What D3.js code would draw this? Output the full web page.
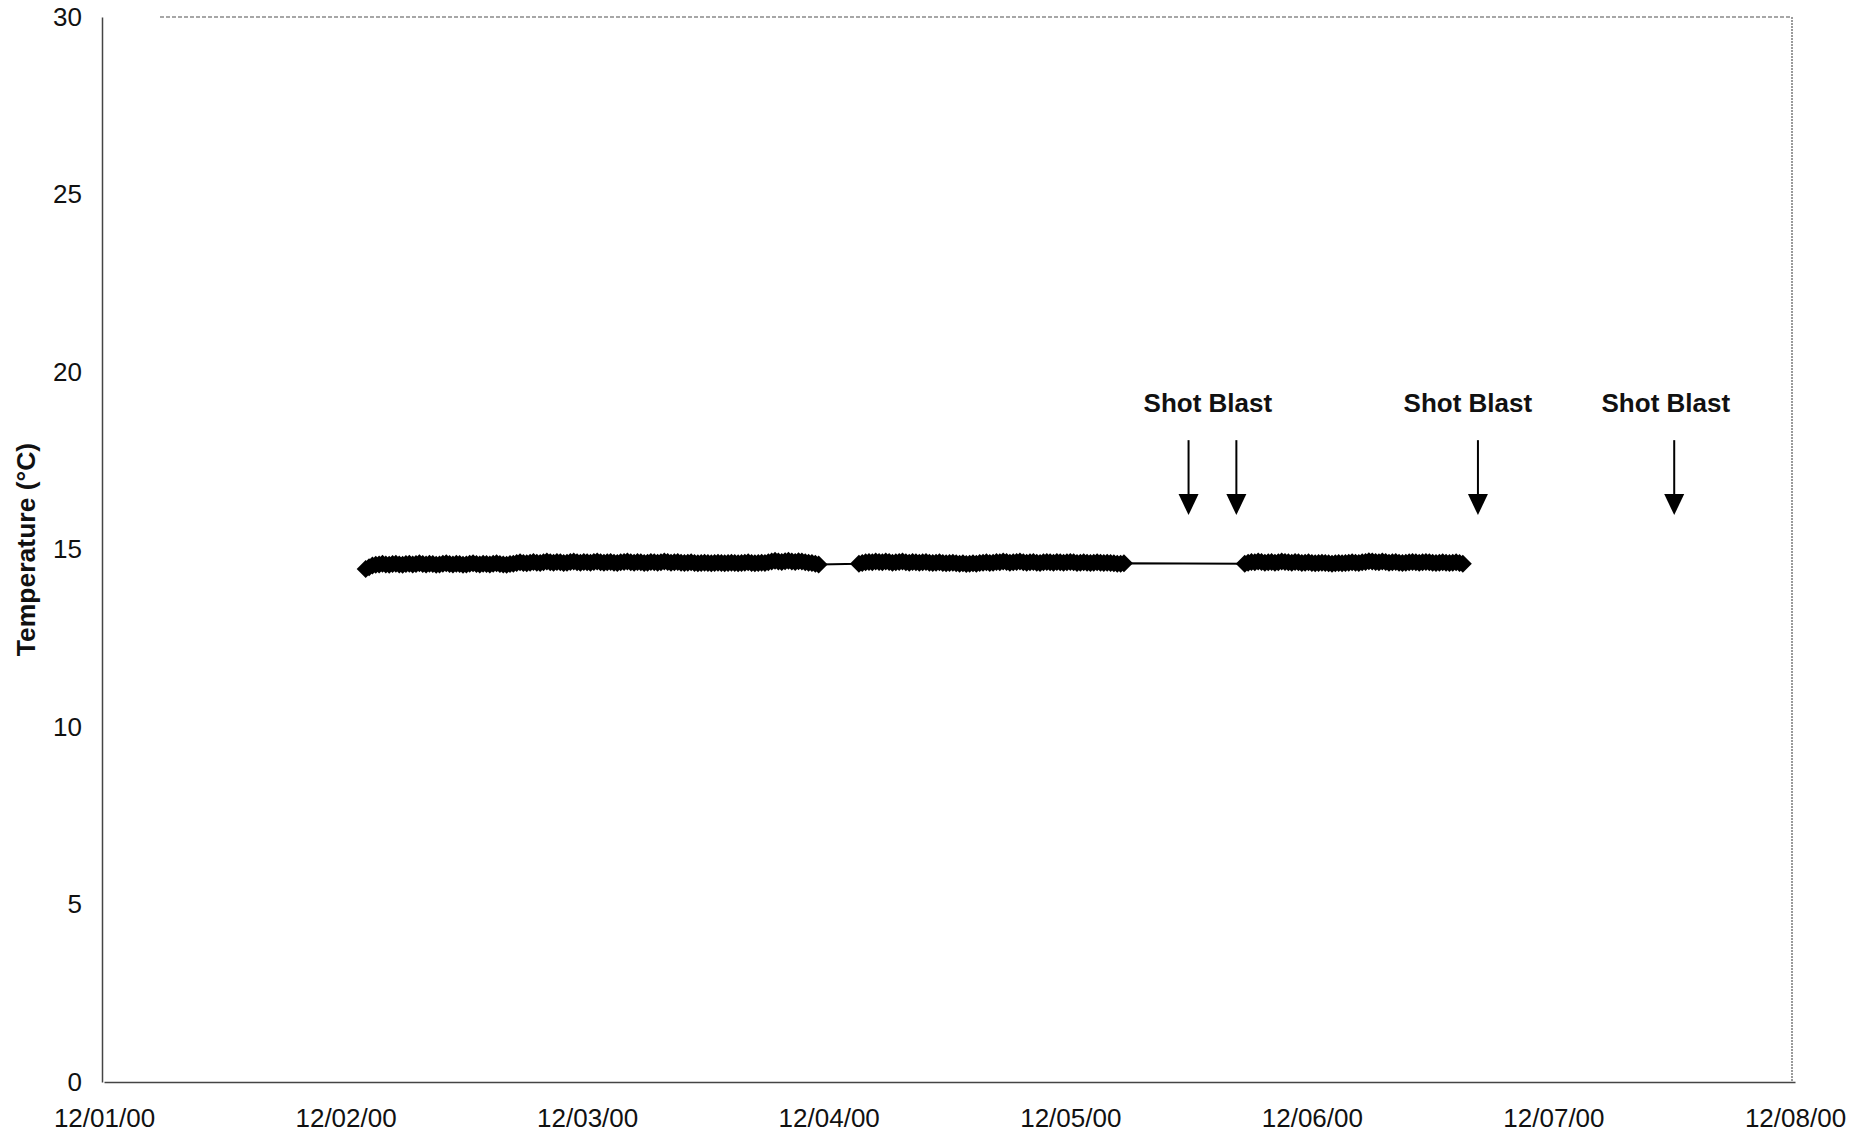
<!DOCTYPE html>
<html>
<head>
<meta charset="utf-8">
<script src="https://cdn.jsdelivr.net/npm/d3@7"></script>
<style>
  html, body { margin: 0; padding: 0; background: #fff; }
  svg { display: block; font-family: "Liberation Sans", Arial, sans-serif; }
</style>
</head>
<body>
<svg id="chart" width="1872" height="1139"></svg>
<script>
// ---------- DATA ----------
const xTickDates = ["2000-12-01","2000-12-02","2000-12-03","2000-12-04","2000-12-05","2000-12-06","2000-12-07","2000-12-08"];
const yTicks = [0, 5, 10, 15, 20, 25, 30];

// logger segments: start time of each segment; readings every 20 minutes
const sampleMinutes = 20;
const segmentStarts = ["2000-12-02T02:00", "2000-12-04T03:00", "2000-12-05T17:20"];
const seg1Temps = [
  14.45, 14.50, 14.55, 14.57, 14.58, 14.60, 14.58, 14.57, 14.59, 14.60,
  14.58, 14.57, 14.59, 14.60, 14.58, 14.59, 14.61, 14.59, 14.58, 14.60,
  14.59, 14.57, 14.58, 14.60, 14.61, 14.59, 14.58, 14.60, 14.59, 14.57,
  14.58, 14.60, 14.61, 14.59, 14.58, 14.60, 14.59, 14.58, 14.60, 14.61,
  14.59, 14.58, 14.57, 14.59, 14.60, 14.62, 14.64, 14.62, 14.61, 14.63,
  14.65, 14.63, 14.62, 14.64, 14.66, 14.64, 14.63, 14.65, 14.64, 14.62,
  14.63, 14.65, 14.66, 14.64, 14.63, 14.65, 14.64, 14.63, 14.65, 14.66,
  14.64, 14.63, 14.64, 14.65, 14.63, 14.62, 14.64, 14.65, 14.66, 14.64,
  14.63, 14.65, 14.64, 14.62, 14.63, 14.65, 14.64, 14.63, 14.64, 14.66,
  14.65, 14.63, 14.64, 14.65, 14.63, 14.62, 14.63, 14.64, 14.62, 14.61,
  14.62, 14.63, 14.62, 14.61, 14.62, 14.63, 14.62, 14.61, 14.62, 14.63,
  14.62, 14.61, 14.62, 14.63, 14.64, 14.62, 14.61, 14.62, 14.63, 14.62,
  14.64, 14.66, 14.68, 14.66, 14.65, 14.67, 14.68, 14.66, 14.65, 14.67,
  14.66, 14.64, 14.63, 14.62, 14.60, 14.58];
const seg2Temps = [
  14.60, 14.62, 14.64, 14.65, 14.64, 14.66, 14.65, 14.64, 14.66, 14.65,
  14.63, 14.64, 14.65, 14.66, 14.64, 14.63, 14.65, 14.64, 14.63, 14.64,
  14.65, 14.63, 14.62, 14.63, 14.64, 14.62, 14.61, 14.62, 14.63, 14.61,
  14.60, 14.61, 14.59, 14.60, 14.61, 14.60, 14.62, 14.63, 14.64, 14.62,
  14.63, 14.65, 14.64, 14.66, 14.65, 14.63, 14.64, 14.65, 14.66, 14.64,
  14.63, 14.64, 14.65, 14.63, 14.62, 14.64, 14.65, 14.64, 14.63, 14.65,
  14.64, 14.63, 14.64, 14.65, 14.64, 14.62, 14.63, 14.64, 14.63, 14.62,
  14.63, 14.64, 14.63, 14.62, 14.63, 14.62, 14.61, 14.60, 14.60, 14.61];
const seg3Temps = [
  14.60, 14.63, 14.65, 14.64, 14.66, 14.65, 14.63, 14.64, 14.65, 14.63,
  14.64, 14.66, 14.65, 14.64, 14.63, 14.65, 14.64, 14.62, 14.63, 14.64,
  14.62, 14.61, 14.62, 14.63, 14.62, 14.61, 14.60, 14.61, 14.62, 14.61,
  14.62, 14.63, 14.64, 14.63, 14.62, 14.64, 14.65, 14.67, 14.66, 14.65,
  14.64, 14.66, 14.65, 14.63, 14.64, 14.65, 14.63, 14.62, 14.63, 14.64,
  14.65, 14.64, 14.63, 14.64, 14.65, 14.64, 14.63, 14.62, 14.63, 14.64,
  14.63, 14.62, 14.63, 14.64, 14.62, 14.60];

// annotations
const blastLabelText = "Shot Blast";
const blastLabelTimes = ["2000-12-05T13:40", "2000-12-06T15:30", "2000-12-07T11:10"];
const blastLabelLevel = 18.87;
const blastArrowTimes = ["2000-12-05T11:45", "2000-12-05T16:30", "2000-12-06T16:30", "2000-12-07T12:00"];
const arrowTopLevel = 18.08;
const arrowTipLevel = 15.97;

const yAxisTitle = "Temperature (°C)";

// ---------- CHART ----------
(function () {
const parse = d3.isoParse;
const svg = d3.select("#chart");

const mLeft = 102, mRight = 1792, mTop = 17, mBottom = 1082;

const x = d3.scaleTime()
  .domain([parse(xTickDates[0]), parse(xTickDates[xTickDates.length - 1])])
  .range([104, 1795]);
const y = d3.scaleLinear().domain([0, 30]).range([mBottom, mTop]);

// frame: faint top & right borders
svg.append("line").attr("x1", 160).attr("x2", mRight).attr("y1", mTop).attr("y2", mTop)
  .attr("stroke", "#8a8a8a").attr("stroke-width", 1.3).attr("stroke-dasharray", "4,2");
svg.append("line").attr("x1", mRight).attr("x2", mRight).attr("y1", mTop).attr("y2", mBottom)
  .attr("stroke", "#7a7a7a").attr("stroke-width", 1.5).attr("stroke-dasharray", "2,1");

// y axis
const yAxis = d3.axisLeft(y).tickValues(yTicks).tickSize(0).tickPadding(20);
const gy = svg.append("g").attr("transform", `translate(${mLeft},0)`).call(yAxis);
gy.select(".domain").attr("stroke", "#444").attr("stroke-width", 1.5);
gy.selectAll("text").attr("font-size", 26).attr("fill", "#111")
  .attr("font-family", "Liberation Sans, Arial, sans-serif");

// x axis
const xAxis = d3.axisBottom(x).tickValues(xTickDates.map(parse))
  .tickFormat(d3.timeFormat("%m/%d/%y")).tickSize(0).tickPadding(27);
const gx = svg.append("g").attr("transform", `translate(0,${mBottom})`).call(xAxis);
gx.select(".domain").attr("stroke", "#444").attr("stroke-width", 1.5);
gx.selectAll("text").attr("font-size", 26).attr("fill", "#111")
  .attr("font-family", "Liberation Sans, Arial, sans-serif");

// y axis title
svg.append("text")
  .attr("transform", `translate(35,${y(15)}) rotate(-90)`)
  .attr("text-anchor", "middle")
  .attr("font-size", 26.5).attr("font-weight", "bold").attr("fill", "#111")
  .text(yAxisTitle);

// build series
const segs = [seg1Temps, seg2Temps, seg3Temps];
const points = [];
segs.forEach((arr, si) => {
  const t0 = parse(segmentStarts[si]);
  arr.forEach((v, i) => points.push({ t: d3.timeMinute.offset(t0, i * sampleMinutes), v }));
});

// connecting line
const line = d3.line().x(d => x(d.t)).y(d => y(d.v));
svg.append("path").datum(points).attr("d", line)
  .attr("fill", "none").attr("stroke", "#000").attr("stroke-width", 2);

// diamond markers
const diamond = "M0,-9L9,0L0,9L-9,0Z";
svg.append("g").selectAll("path").data(points).join("path")
  .attr("d", diamond)
  .attr("transform", d => `translate(${x(d.t)},${y(d.v)})`)
  .attr("fill", "#000");

// annotations
svg.append("g").selectAll("text").data(blastLabelTimes).join("text")
  .attr("x", d => x(parse(d)))
  .attr("y", y(blastLabelLevel))
  .attr("text-anchor", "middle")
  .attr("font-size", 26).attr("font-weight", "bold").attr("fill", "#111")
  .text(blastLabelText);

const arrows = svg.append("g").selectAll("g").data(blastArrowTimes).join("g")
  .attr("transform", d => `translate(${x(parse(d))},0)`);
const headH = 21, headW = 10;
arrows.append("line")
  .attr("x1", 0).attr("x2", 0)
  .attr("y1", y(arrowTopLevel)).attr("y2", y(arrowTipLevel) - headH + 2)
  .attr("stroke", "#000").attr("stroke-width", 2);
arrows.append("path")
  .attr("d", `M${-headW},${y(arrowTipLevel) - headH}L${headW},${y(arrowTipLevel) - headH}L0,${y(arrowTipLevel)}Z`)
  .attr("fill", "#000");
})();
</script>
</body>
</html>
